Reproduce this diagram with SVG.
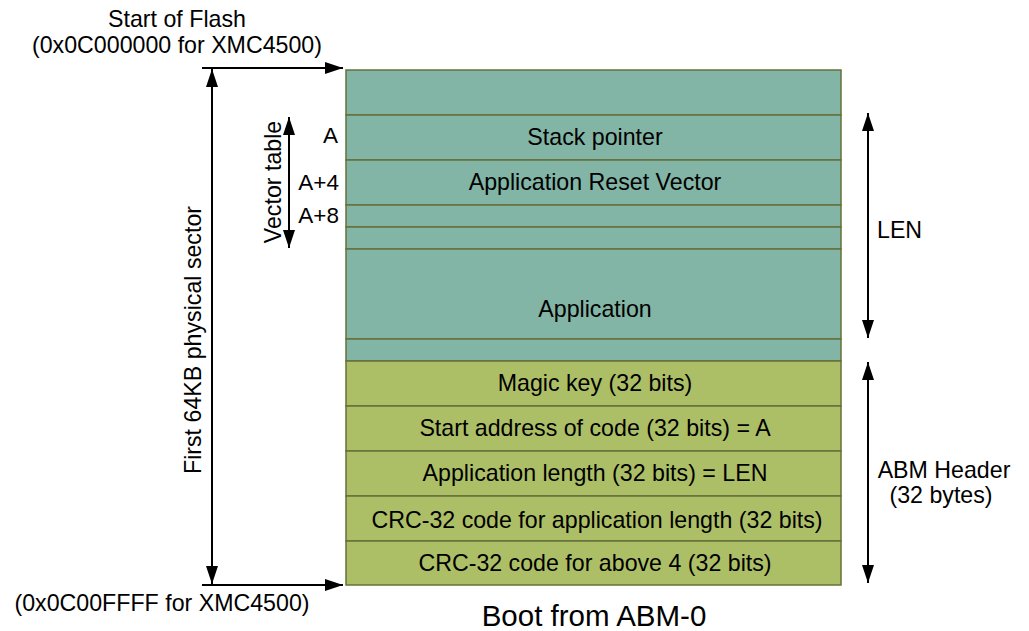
<svg xmlns="http://www.w3.org/2000/svg" width="1029" height="631" viewBox="0 0 1029 631">
<style>
.t{font-family:"Liberation Sans",Arial,sans-serif;font-size:23.2px;fill:#000}
.s{font-size:22.5px}
.c{text-anchor:middle}
.r{text-anchor:end}
.teal{fill:#82b5a5;stroke:#66703a;stroke-width:1.5}
.grn{fill:#adbf66;stroke:#66703a;stroke-width:1.5}
.ar{stroke:#000;stroke-width:2;fill:none}
</style>
<defs>
<marker id="ah" viewBox="0 0 18 12" refX="18" refY="6" markerWidth="18" markerHeight="12" markerUnits="userSpaceOnUse" orient="auto-start-reverse">
<path d="M0,0 L18,6 L0,12 z" fill="#000"/>
</marker>
</defs>
<rect width="1029" height="631" fill="#fff"/>
<g id="memory">
<g id="row-top"><rect class="teal" x="346" y="70" width="495" height="45"/></g>
<g id="row-sp"><rect class="teal" x="346" y="115" width="495" height="45"/><text class="t c" x="595" y="145">Stack pointer</text></g>
<g id="row-rv"><rect class="teal" x="346" y="160" width="495" height="45"/><text class="t c" x="595" y="190">Application Reset Vector</text></g>
<g id="row-a8"><rect class="teal" x="346" y="205" width="495" height="22"/></g>
<g id="row-a12"><rect class="teal" x="346" y="227" width="495" height="22"/></g>
<g id="row-app"><rect class="teal" x="346" y="249" width="495" height="90"/><text class="t c" x="595" y="317">Application</text></g>
<g id="row-end"><rect class="teal" x="346" y="339" width="495" height="22"/></g>
<g id="row-magic"><rect class="grn" x="346" y="361" width="495" height="45"/><text class="t c" x="595" y="391">Magic key (32 bits)</text></g>
<g id="row-start"><rect class="grn" x="346" y="406" width="495" height="45"/><text class="t c" x="595" y="436">Start address of code (32 bits) = A</text></g>
<g id="row-len"><rect class="grn" x="346" y="451" width="495" height="45"/><text class="t c" x="595" y="481">Application length (32 bits) = LEN</text></g>
<g id="row-crc1"><rect class="grn" x="346" y="496" width="495" height="45"/><text class="t c" x="597" y="528">CRC-32 code for application length (32 bits)</text></g>
<g id="row-crc2"><rect class="grn" x="346" y="541" width="495" height="44"/><text class="t c" x="595" y="571">CRC-32 code for above 4 (32 bits)</text></g>
</g>
<g id="connectors">
<line class="ar" x1="202" y1="68" x2="343" y2="68" marker-end="url(#ah)"/>
<line class="ar" x1="202" y1="585" x2="343" y2="585" marker-end="url(#ah)"/>
<line class="ar" x1="212" y1="69" x2="212" y2="584" marker-start="url(#ah)" marker-end="url(#ah)"/>
<line class="ar" x1="289" y1="117" x2="289" y2="248" marker-start="url(#ah)" marker-end="url(#ah)"/>
<line class="ar" x1="868" y1="113" x2="868" y2="338" marker-start="url(#ah)" marker-end="url(#ah)"/>
<line class="ar" x1="868" y1="362" x2="868" y2="583" marker-start="url(#ah)" marker-end="url(#ah)"/>
</g>
<g id="labels">
<text class="t c" x="177" y="27">Start of Flash</text>
<text class="t c" x="177" y="53">(0x0C000000 for XMC4500)</text>
<text class="t c" x="162" y="611">(0x0C00FFFF for XMC4500)</text>
<text class="t c" transform="translate(201,340) rotate(-90)">First 64KB physical sector</text>
<text class="t c" transform="translate(281,182) rotate(-90)">Vector table</text>
<text class="t s r" x="338" y="143">A</text>
<text class="t s r" x="339" y="190">A+4</text>
<text class="t s r" x="339" y="223">A+8</text>
<text class="t" x="877" y="238">LEN</text>
<text class="t c" x="944" y="478">ABM Header</text>
<text class="t c" x="941" y="503">(32 bytes)</text>
<text class="t c" style="font-size:29.5px" x="594" y="626">Boot from ABM-0</text>
</g>
</svg>
